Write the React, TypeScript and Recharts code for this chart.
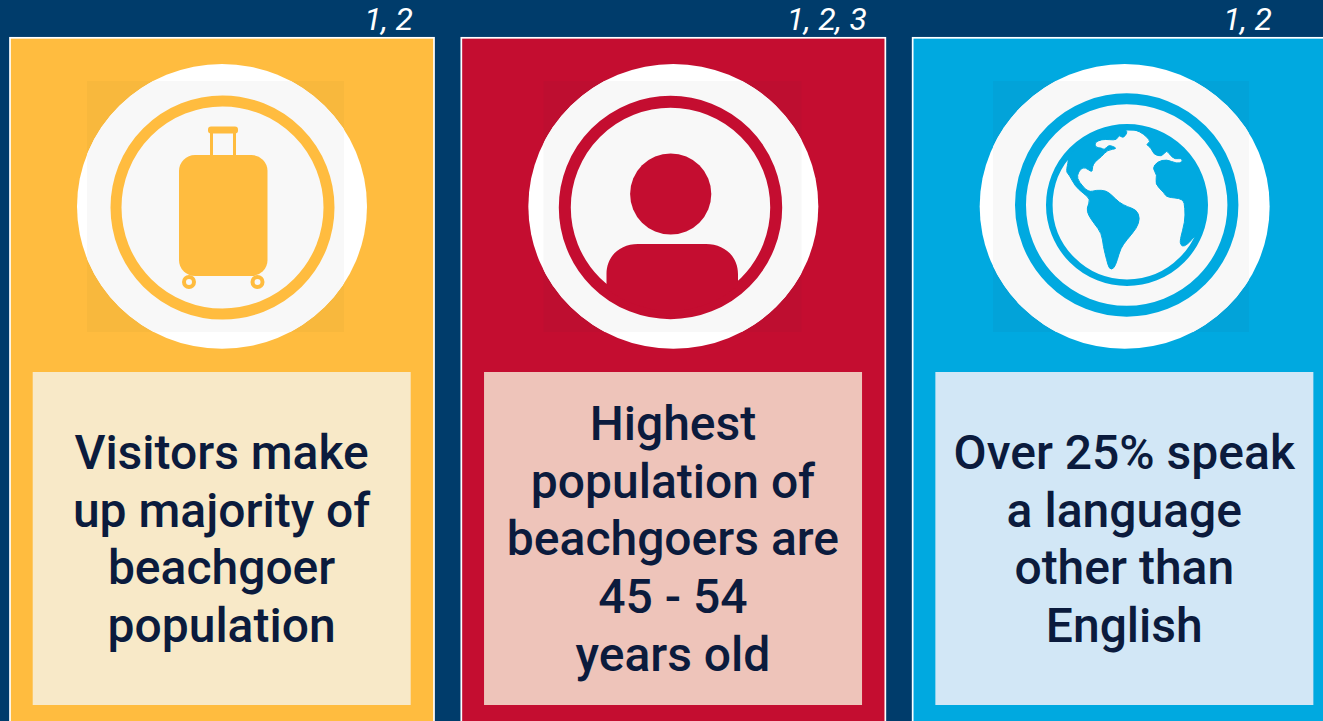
import { Bar, BarChart, XAxis, YAxis } from "recharts";

// each card runs off the bottom of the picture
const categories = ["visitors", "age", "language"];
const cardValues = [100, 100, 100];
const citations = ["1, 2", "1, 2, 3", "1, 2"];
const messages = [
  ["Visitors make", "up majority of", "beachgoer", "population"],
  ["Highest", "population of", "beachgoers are", "45 - 54", "years old"],
  ["Over 25% speak", "a language", "other than", "English"],
];

const data = categories.map((name, i) => ({
  name,
  value: cardValues[i],
  citation: citations[i],
  lines: messages[i],
}));

const NAVY = "#003c6b";
const INK = "#0b1b3d";
const FONT = "Roboto, sans-serif";
const SHIFT = 4; // the chart sits 4px left of the page

const looks = [
  { fill: "#ffbc3f", tint: "#f8b83d", panel: "#f8e9c8", citeX: 413 },
  { fill: "#c40d30", tint: "#be0e30", panel: "#eec4ba", citeX: 867 },
  { fill: "#00a9e0", tint: "#02a3d9", panel: "#d2e7f6", citeX: 1272 },
];

// outlines traced off the globe, in a 3x grid
const americas = [
  [505, 212], [490, 236], [478, 224], [470, 240], [450, 239], [425, 238], [403, 248], [408, 263], [425, 264],
  [432, 270], [446, 256], [456, 258], [472, 266], [442, 270], [425, 290], [405, 305], [397, 320], [397, 338],
  [376, 322], [362, 326], [351, 346], [356, 365], [385, 397], [410, 390], [438, 392], [455, 405], [478, 428],
  [502, 440], [530, 450], [540, 475], [530, 505], [500, 540], [482, 565], [472, 600], [462, 626], [448, 628],
  [440, 600], [430, 560], [425, 520], [402, 490], [385, 465], [380, 445], [392, 418], [370, 400], [345, 378],
  [328, 345], [318, 335], [326, 300], [320, 292], [370, 245], [430, 215], [480, 205],
];
const eurafrica = [
  [510, 205], [540, 215], [560, 230], [572, 246], [557, 253], [575, 265], [580, 282], [605, 291], [620, 270],
  [630, 285], [645, 298], [665, 294], [668, 306], [650, 311], [620, 298], [592, 305], [577, 325], [592, 345],
  [585, 372], [612, 398], [620, 412], [670, 416], [675, 445], [675, 485], [660, 540], [662, 555], [672, 560],
  [690, 546], [702, 530], [716, 520], [736, 435], [710, 330], [640, 240], [600, 222],
];

const smooth = (pts: number[][]) => {
  const mid = (a: number[], b: number[]) => `${(a[0] + b[0]) / 2},${(a[1] + b[1]) / 2}`;
  let d = `M${mid(pts[pts.length - 1], pts[0])}`;
  pts.forEach((p, i) => {
    d += ` Q${p[0]},${p[1]} ${mid(p, pts[(i + 1) % pts.length])}`;
  });
  return d + " Z";
};

const Luggage = ({ color }: { color: string }) => (
  <g>
    <circle cx={222.5} cy={207.5} r={106.5} fill="none" stroke={color} strokeWidth={11} />
    <rect x={179} y={155} width={88.5} height={121} rx={16} fill={color} />
    <rect x={208} y={126.5} width={30} height={7} rx={3} fill={color} />
    <rect x={211.5} y={131} width={23} height={26} fill="none" stroke={color} strokeWidth={3} />
    <circle cx={189} cy={282} r={5} fill="none" stroke={color} strokeWidth={4} />
    <circle cx={257.5} cy={282} r={5} fill="none" stroke={color} strokeWidth={4} />
  </g>
);

const Person = ({ color }: { color: string }) => (
  <g>
    <circle cx={670.5} cy={207.5} r={105.7} fill="none" stroke={color} strokeWidth={12} />
    <circle cx={670.7} cy={194} r={40.6} fill={color} />
    <path
      d="M606.5 284 V274 C606.5 256 620 244 638 244 H706 C724 244 738 256 738 274 V282 L743 281 A103 103 0 0 1 598 281 Z"
      fill={color}
    />
  </g>
);

const Globe = ({ color }: { color: string }) => (
  <g>
    <circle cx={1126.7} cy={205} r={106.2} fill="none" stroke={color} strokeWidth={11} />
    <circle cx={1127} cy={205} r={77.7} fill="none" stroke={color} strokeWidth={6.6} />
    <g transform="translate(960 60) scale(0.3333)" fill={color} stroke={color} strokeWidth={3} strokeLinejoin="round">
      <path d={smooth(americas)} />
      <path d={smooth(eurafrica)} />
    </g>
  </g>
);

const icons = [Luggage, Person, Globe];

const Card = (props: any) => {
  const { x, y, width, height, index, payload } = props;
  const look = looks[index];
  const cx = x + width / 2;
  const Icon = icons[index];
  const squareX = [87, 543.5, 993][index] + SHIFT;
  const squareW = [257, 258, 256][index];
  const firstBaseline = payload.lines.length === 5 ? 440 : 469;
  return (
    <g>
      <text
        x={look.citeX + SHIFT}
        y={30}
        textAnchor="end"
        fontFamily={FONT}
        fontStyle="italic"
        fontSize={32}
        fill="#ffffff"
      >
        {payload.citation}
      </text>
      <rect x={x} y={y} width={width} height={height} fill={look.fill} stroke="#ffffff" strokeWidth={1.7} />
      <rect x={squareX} y={81} width={squareW} height={251} fill={look.tint} />
      <ellipse cx={cx} cy={206.4} rx={145} ry={142.4} fill="#ffffff" />
      <clipPath id={`square-${index}`}>
        <rect x={squareX} y={81} width={squareW} height={251} />
      </clipPath>
      <ellipse cx={cx} cy={206.4} rx={145} ry={142.4} fill="#f8f8f8" clipPath={`url(#square-${index})`} />
      <g transform={`translate(${SHIFT} 0)`}>
        <Icon color={look.fill} />
      </g>
      <rect x={cx - 189.3} y={372} width={378} height={333} fill={look.panel} />
      <text textAnchor="middle" fontFamily={FONT} fontWeight={500} fontSize={48} fill={INK}>
        {payload.lines.map((line: string, i: number) => (
          <tspan key={line} x={cx - 0.4} y={firstBaseline + i * 57.7}>
            {line}
          </tspan>
        ))}
      </text>
    </g>
  );
};

export default function App() {
  return (
    <div
      style={{
        position: "absolute",
        left: 0,
        top: 0,
        width: 1323,
        height: 721,
        overflow: "hidden",
        background: NAVY,
      }}
    >
      <div style={{ position: "absolute", left: -SHIFT, top: 0 }}>
        <BarChart
          width={1354}
          height={745}
          data={data}
          margin={{ top: 37.8, right: 0, bottom: 0, left: 0 }}
          barCategoryGap={0}
        >
          <XAxis dataKey="name" hide />
          <YAxis domain={[0, 100]} hide />
          <Bar dataKey="value" barSize={424} shape={Card} isAnimationActive={false} />
        </BarChart>
      </div>
    </div>
  );
}
